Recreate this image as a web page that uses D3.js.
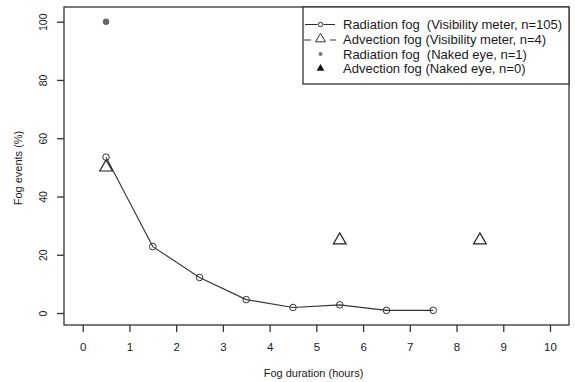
<!DOCTYPE html>
<html>
<head>
<meta charset="utf-8">
<script src="https://cdn.jsdelivr.net/npm/d3@7"></script>
<style>
  body { margin: 0; background: #fff; }
  svg { display: block; font-family: "Liberation Sans", Arial, sans-serif; }
  .lgtxt { white-space: pre; }
</style>
</head>
<body>
<script>
// fog duration bins (hours, bin centres)
const radDur = [0.5, 1.5, 2.5, 3.5, 4.5, 5.5, 6.5, 7.5];
const radPct = [53.5, 22.8, 12.2, 4.6, 1.9, 2.8, 0.9, 0.9];
const advDur = [0.5, 5.5, 8.5];
const advPct = [50, 25, 25];
const eyeDur = [0.5];
const eyePct = [100];
const xTicks = [0, 1, 2, 3, 4, 5, 6, 7, 8, 9, 10];
const yTicks = [0, 20, 40, 60, 80, 100];
const legendLabels = [
  "Radiation fog  (Visibility meter, n=105)",
  "Advection fog (Visibility meter, n=4)",
  "Radiation fog  (Naked eye, n=1)",
  "Advection fog (Naked eye, n=0)"
];

const W = 575, H = 382;
const svg = d3.select("body").append("svg").attr("width", W).attr("height", H);

const box = {left: 64, right: 569, top: 7, bottom: 325};
const x = d3.scaleLinear().domain([0, 10]).range([82.7, 550]);
const y = d3.scaleLinear().domain([0, 100]).range([313, 21.7]);

const ink = "#1a1a1a";

// plot frame
svg.append("rect")
    .attr("x", box.left).attr("y", box.top)
    .attr("width", box.right - box.left).attr("height", box.bottom - box.top)
    .attr("fill", "none").attr("stroke", "#333").attr("stroke-width", 1.3);

// x axis
let xa = svg.append("g").attr("transform", `translate(0,${box.bottom})`)
    .call(d3.axisBottom(x).tickValues(xTicks).tickSize(7).tickPadding(11).tickFormat(d3.format("d")));
xa.select(".domain").remove();
xa.selectAll("line").attr("stroke", "#333").attr("stroke-width", 1.3);
xa.selectAll("text").attr("font-size", 11.5).attr("fill", ink).attr("font-family", "Liberation Sans, Arial, sans-serif");

// y axis
let ya = svg.append("g").attr("transform", `translate(${box.left},0)`)
    .call(d3.axisLeft(y).tickValues(yTicks).tickSize(7).tickPadding(5));
ya.select(".domain").remove();
ya.selectAll("line").attr("stroke", "#333").attr("stroke-width", 1.3);
ya.selectAll("text")
    .attr("font-size", 10.5).attr("fill", ink).attr("font-family", "Liberation Sans, Arial, sans-serif")
    .attr("text-anchor", "middle").attr("dy", null)
    .attr("transform", d => `translate(-20,0) rotate(-90)`)
    .attr("x", 0).attr("y", 0).attr("dominant-baseline", "middle");

// axis titles
svg.append("text").attr("x", (box.left + box.right) / 2 - 3).attr("y", 377)
    .attr("text-anchor", "middle").attr("font-size", 11).attr("fill", ink)
    .text("Fog duration (hours)");
svg.append("text")
    .attr("transform", `translate(22,${(box.top + box.bottom) / 2 + 2}) rotate(-90)`)
    .attr("text-anchor", "middle").attr("font-size", 11).attr("fill", ink)
    .text("Fog events (%)");

// radiation fog line + open circles
const rad = radDur.map((d, i) => ({x: d, y: radPct[i]}));
svg.append("path").datum(rad)
    .attr("d", d3.line().x(d => x(d.x)).y(d => y(d.y)))
    .attr("fill", "none").attr("stroke", "#333").attr("stroke-width", 1.1);
svg.append("g").selectAll("circle").data(rad).join("circle")
    .attr("cx", d => x(d.x)).attr("cy", d => y(d.y)).attr("r", 3.3)
    .attr("fill", "none").attr("stroke", "#333").attr("stroke-width", 1);

// advection fog triangles
const tri = d3.symbol().type(d3.symbolTriangle).size(70);
svg.append("g").selectAll("path").data(advDur.map((d, i) => ({x: d, y: advPct[i]}))).join("path")
    .attr("d", tri)
    .attr("transform", d => `translate(${x(d.x)},${y(d.y)})`)
    .attr("fill", "none").attr("stroke", "#222").attr("stroke-width", 1.2);

// naked eye radiation fog
svg.append("g").selectAll("circle").data(eyeDur.map((d, i) => ({x: d, y: eyePct[i]}))).join("circle")
    .attr("cx", d => x(d.x)).attr("cy", d => y(d.y)).attr("r", 3.2)
    .attr("fill", "#666");

// legend
const lg = svg.append("g");
lg.append("rect").attr("x", 303).attr("y", box.top)
    .attr("width", box.right - 303).attr("height", 84 - box.top)
    .attr("fill", "#fff").attr("stroke", "#333").attr("stroke-width", 1.3);
const rowY = [24.5, 39, 54, 68.5];
const sx = 320.5;
legendLabels.forEach((t, i) => {
  lg.append("text").attr("class", "lgtxt").attr("x", 343).attr("y", rowY[i]).attr("dy", "0.36em")
      .attr("font-size", 13).attr("fill", ink).text(t);
});
// row 1: line with small circle
lg.append("line").attr("x1", 305).attr("x2", 317.5).attr("y1", rowY[0]).attr("y2", rowY[0]).attr("stroke", "#333");
lg.append("line").attr("x1", 323.5).attr("x2", 335).attr("y1", rowY[0]).attr("y2", rowY[0]).attr("stroke", "#333");
lg.append("circle").attr("cx", sx).attr("cy", rowY[0]).attr("r", 2.2).attr("fill", "none").attr("stroke", "#333");
// row 2: dashes with small triangle
lg.append("line").attr("x1", 304).attr("x2", 311).attr("y1", rowY[1] + 1).attr("y2", rowY[1] + 1).attr("stroke", "#333");
lg.append("line").attr("x1", 330).attr("x2", 336).attr("y1", rowY[1] + 1).attr("y2", rowY[1] + 1).attr("stroke", "#333");
lg.append("path").attr("d", d3.symbol().type(d3.symbolTriangle).size(42))
    .attr("transform", `translate(${sx},${rowY[1]})`)
    .attr("fill", "none").attr("stroke", "#333");
// row 3: gray dot
lg.append("circle").attr("cx", sx).attr("cy", rowY[2]).attr("r", 2).attr("fill", "#777");
// row 4: filled triangle
lg.append("path").attr("d", d3.symbol().type(d3.symbolTriangle).size(26))
    .attr("transform", `translate(${sx},${rowY[3]})`)
    .attr("fill", "#111");
</script>
</body>
</html>
